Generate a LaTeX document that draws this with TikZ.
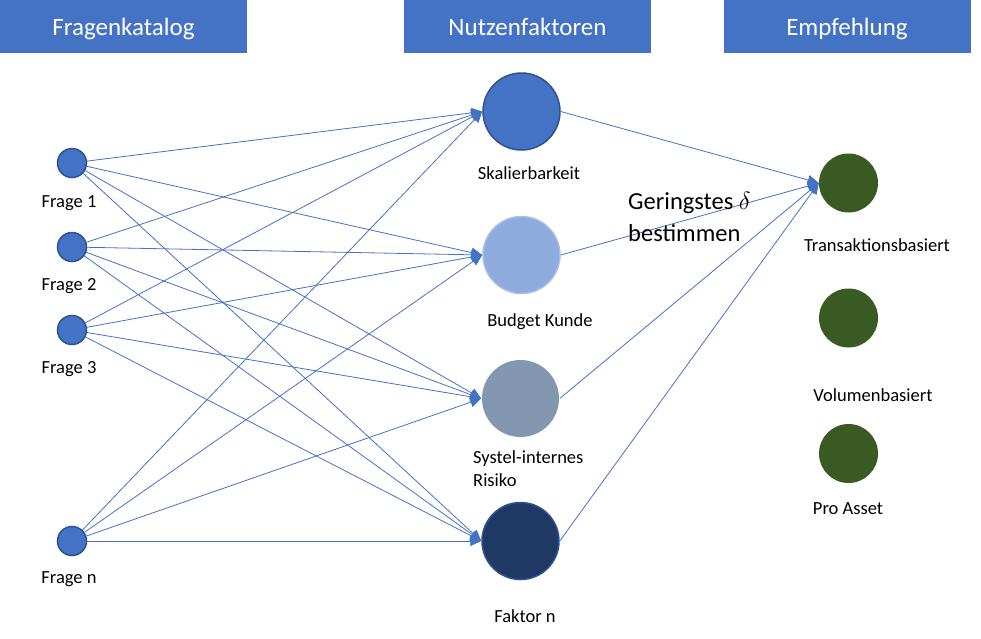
\documentclass[tikz,border=0pt]{standalone}
\usepackage{fontspec}
\setmainfont{Carlito}
\usetikzlibrary{arrows.meta}
\definecolor{hdr}{HTML}{4472C4}
\definecolor{bluedark}{HTML}{2F528F}
\definecolor{budget}{HTML}{8FAADC}
\definecolor{budgetb}{HTML}{A9C0E6}
\definecolor{systel}{HTML}{8497B0}
\definecolor{faktor}{HTML}{203864}
\definecolor{green}{HTML}{3A5A24}
\begin{document}
\begin{tikzpicture}[x=1pt,y=-1pt,
  header/.style={fill=hdr,text=white,font=\fontsize{25}{30}\selectfont,minimum width=247pt,minimum height=53pt,inner sep=0pt,text height=24.5pt,text depth=7.5pt},
  frage/.style={circle,draw=bluedark,fill=hdr,line width=1.5pt,minimum size=29pt,inner sep=0pt},
  big/.style={circle,minimum size=77pt,inner sep=0pt,line width=1.5pt},
  rec/.style={circle,fill=green,minimum size=59pt,inner sep=0pt},
  lbl/.style={font=\fontsize{18.5}{23}\selectfont,inner sep=0pt},
  edge/.style={draw=hdr,line width=0.8pt,-{Triangle[length=11pt,width=10pt]}}
]
\useasboundingbox (0,0) rectangle (981,638);
\node[header] (h1) at (123.5,26.5) {Fragenkatalog};
\node[header] (h2) at (527.5,26.5) {Nutzenfaktoren};
\node[header] (h3) at (847,26.5) {Empfehlung};

\node[frage] (f1) at (72,163) {};
\node[frage] (f2) at (72,247) {};
\node[frage] (f3) at (72,330) {};
\node[frage] (fn) at (72,541) {};
\node[lbl] (lf1) at (69,203) {Frage 1};
\node[lbl] (lf2) at (69,286) {Frage 2};
\node[lbl] (lf3) at (69,369) {Frage 3};
\node[lbl] (lfn) at (69,579) {Frage n};

\node[big,fill=hdr,draw=bluedark] (s) at (521.5,111.5) {};
\node[big,fill=budget,draw=budgetb] (b) at (521.5,255) {};
\node[big,fill=systel] (r) at (520.5,398.5) {};
\node[big,fill=faktor,draw=bluedark] (k) at (520.5,541) {};
\node[lbl] (ls) at (529,173) {Skalierbarkeit};
\node[lbl] (lb) at (540,322) {Budget Kunde};
\node[lbl,anchor=west,align=left] (lr) at (473,469) {Systel-internes\\Risiko};
\node[lbl] (lk) at (525,616) {Faktor n};

\node[rec] (t) at (848.5,183) {};
\node[rec] (v) at (848.5,318) {};
\node[rec] (p) at (848.5,453.5) {};
\node[lbl] (lt) at (877,245) {Transaktionsbasiert};
\node[lbl] (lv) at (873,395) {Volumenbasiert};
\node[lbl] (lp) at (848,509) {Pro Asset};

\foreach \a in {f1,f2,f3,fn}{
  \foreach \b in {s,b,r,k}{
    \draw[edge] (\a) -- (\b.west);
  }
}
\foreach \b in {s,b,r,k}{
  \draw[edge] (\b.east) -- (t.west);
}
\node[anchor=west,align=left,inner sep=0pt,font=\fontsize{24.5}{32}\selectfont] (g) at (628,217) {Geringstes $\delta$\\bestimmen};
\end{tikzpicture}
\end{document}
